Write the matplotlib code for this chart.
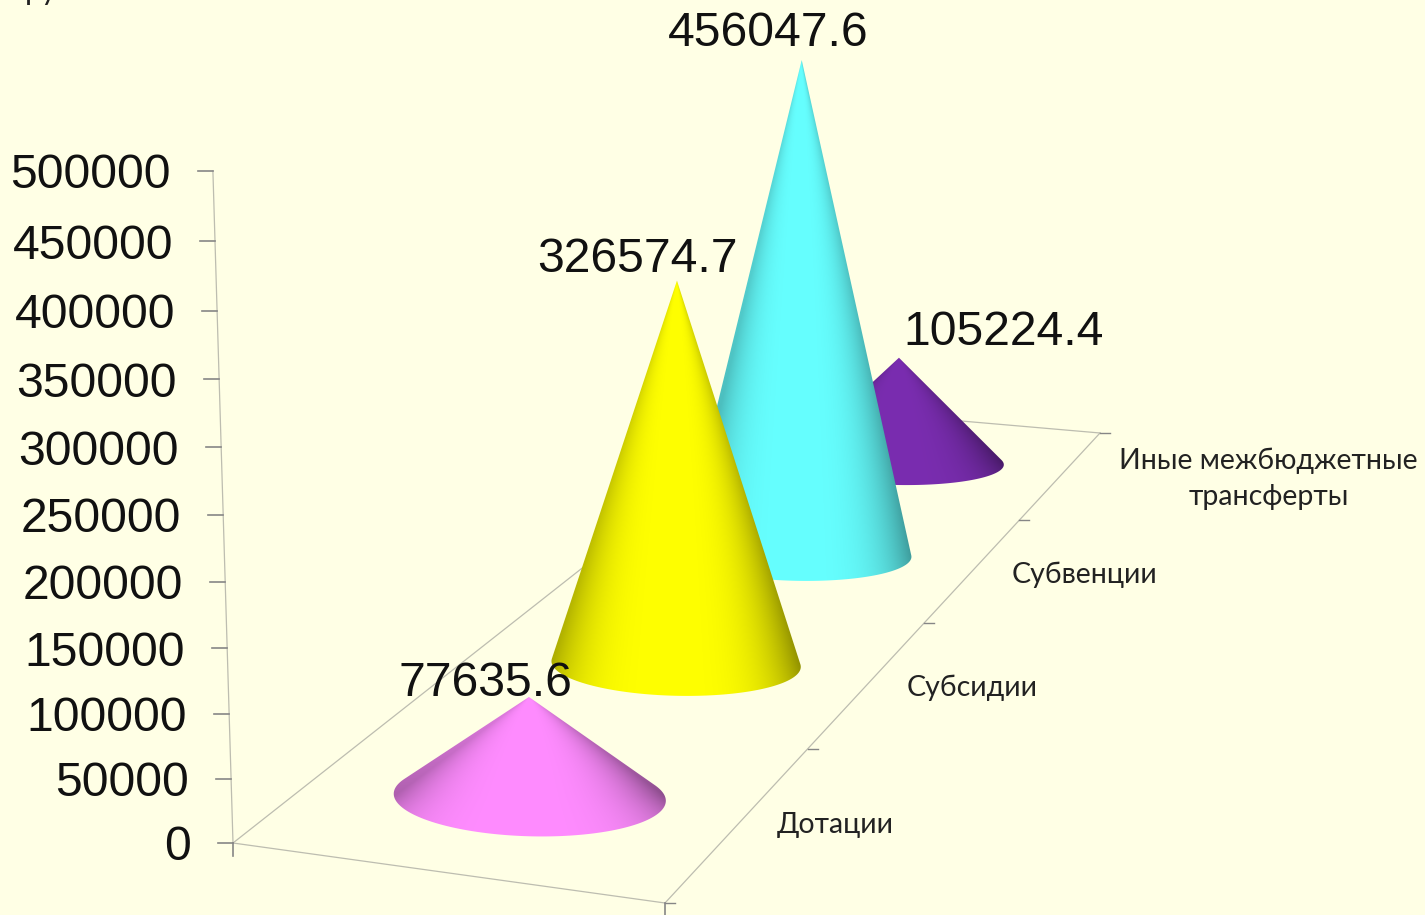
import numpy as np
import matplotlib
matplotlib.use('Agg')
import matplotlib.pyplot as plt
from matplotlib.patches import Polygon

# data
categories = ['Дотации', 'Субсидии', 'Субвенции', 'Иные межбюджетные\nтрансферты']
values = [77635.6, 326574.7, 456047.6, 105224.4]
colors = ['#FF8CFF', '#FFFF00', '#66FFFF', '#7A2DB0']
yticks = [0, 50000, 100000, 150000, 200000, 250000, 300000, 350000, 400000, 450000, 500000]

bg = '#FFFFE5'
grid = '#BDBDB0'
tick_c = '#868686'

# floor corners in pixels: front left, front right, back right, back left
src = np.array([[0, 0], [1, 0], [1, 1], [0, 1]], float)
dst = np.array([[233, 843], [665, 903], [1100, 433], [788, 406]], float)
A = []
b = []
for (u, v), (X, Y) in zip(src, dst):
    A.append([u, v, 1, 0, 0, 0, -u*X, -v*X])
    A.append([0, 0, 0, u, v, 1, -u*Y, -v*Y])
    b += [X, Y]
h = np.linalg.solve(np.array(A), np.array(b))
H = np.append(h, 1).reshape(3, 3)
vmax = 500000.0


def proj(a, d, val=0.0):
    # value axis is a projective column too, so tick spacing shrinks downwards
    a, d, t = np.asarray(a, float), np.asarray(d, float), np.asarray(val, float)/vmax
    w = H[2, 0]*a + H[2, 1]*d + H[2, 2] - 0.0465*t
    x = (H[0, 0]*a + H[0, 1]*d + H[0, 2] - 30*t)/w
    y = (H[1, 0]*a + H[1, 1]*d + H[1, 2] - 680*t)/w
    return x, y


def hull(pts):
    pts = sorted(map(tuple, pts))
    out = []
    for seq in (pts, pts[::-1]):
        part = []
        for p in seq:
            while len(part) > 1 and ((part[-1][0]-part[-2][0])*(p[1]-part[-2][1])
                                     - (part[-1][1]-part[-2][1])*(p[0]-part[-2][0])) <= 0:
                part.pop()
            part.append(p)
        out += part[:-1]
    return np.array(out)


fig = plt.figure(figsize=(14.25, 9.15), dpi=100, facecolor=bg)
ax = fig.add_axes([0, 0, 1, 1])
ax.set_xlim(0, 1425)
ax.set_ylim(915, 0)
ax.axis('off')

# floor and value axis
for p, q in [((0, 0), (1, 0)), ((1, 0), (1, 1)), ((1, 1), (0, 1)), ((0, 1), (0, 0))]:
    x0, y0 = proj(*p)
    x1, y1 = proj(*q)
    ax.plot([x0, x1], [y0, y1], color=grid, lw=0.9, zorder=1)
x0, y0 = proj(0, 0, 0)
x1, y1 = proj(0, 0, vmax)
ax.plot([x0, x1], [y0, y1], color=grid, lw=0.9, zorder=1)
ax.plot([x0, x0], [y0, y0 + 13], color=tick_c, lw=1.2, zorder=1)

for t in yticks:
    x, y = proj(0, 0, t)
    ax.plot([x - 15, x], [y, y], color=tick_c, lw=1.2, zorder=1)
    ax.text(x - 42, y + 5, str(t), ha='right', va='center', fontsize=34.7,
            family='Liberation Sans', color='#111111', zorder=10)

# depth ticks
for i in range(5):
    x, y = proj(1, i/4)
    ax.plot([x, x + 10], [y, y], color=tick_c, lw=1, zorder=1)
    if i == 0:
        ax.plot([x, x], [y, y + 13], color=tick_c, lw=1.2, zorder=1)

# cones, back to front
r_a = 0.33
r_d = 0.066
th = np.linspace(0, 2*np.pi, 360)
for i in [3, 2, 1, 0]:
    d = (i + 0.5)/4
    cx, cy = proj(0.5, d)
    tx, ty = proj(0.5, d, values[i])
    cy = cy + 3
    xl, yl = proj(0.5 - r_a, d)
    xr, yr = proj(0.5 + r_a, d)
    _, yn = proj(0.5, d - r_d)
    _, yf = proj(0.5, d + r_d)
    rx = (xr - xl)/2
    ry = (yn - yf)/2
    slope = (yr - yl)/(xr - xl)
    bx = cx + rx*np.cos(th)
    by = cy + ry*np.sin(th) + 0.2*slope*(bx - cx)
    outline = hull(np.column_stack([np.append(bx, tx), np.append(by, ty)]))

    # shading runs along the cone from its tip, brightest near the middle
    left, right = bx.min() - 2, bx.max() + 2
    top, bot = ty - 2, by.max() + 2
    X, Y = np.meshgrid(np.linspace(left, right, 500), np.linspace(top, bot, 500))
    frac = np.clip((Y - ty)/(cy - ty), 0, 1)
    u = (X - tx)/(rx*np.maximum(Y - ty, 1)/(cy - ty))
    shade = 1 - 0.38*(0.3 + 0.7*frac)*np.abs(np.clip(u, -1, 1) + 0.05)**3.4
    rgb = np.array(matplotlib.colors.to_rgb(colors[i]))
    img = np.clip(shade, 0, 1)[:, :, None]*rgb[None, None, :]
    im = ax.imshow(img, extent=[left, right, bot, top], aspect='auto', zorder=3 + (3 - i),
                   interpolation='bilinear')
    clip = Polygon(outline, closed=True, transform=ax.transData, fc='none', ec='none')
    ax.add_patch(clip)
    im.set_clip_path(clip)
ax.set_xlim(0, 1425)
ax.set_ylim(915, 0)

# value labels above the tips
lab_off = [(-44, -13), (-40, -21), (-34, -27), (105, -25)]
for i in range(4):
    tx, ty = proj(0.5, (i + 0.5)/4, values[i])
    ax.text(tx + lab_off[i][0], ty + lab_off[i][1], str(values[i]), ha='center', va='center',
            fontsize=34.7, family='Liberation Sans', color='#111111', zorder=12)

# category labels
cat_off = [(95, 3), (103, 5), (111, 5), (207, 4)]
for i in range(4):
    x, y = proj(1, (i + 0.5)/4)
    ax.text(x + cat_off[i][0], y + cat_off[i][1], categories[i], ha='center', va='center',
            fontsize=20.5, family='Lato', color='#222222', linespacing=1.45, zorder=12)

# unit caption cut off by the top edge
ax.text(76, 0, 'рублей', ha='center', va='baseline', fontsize=22, family='Lato', color='#222222')

fig.savefig('out.png', dpi=100, facecolor=bg)
